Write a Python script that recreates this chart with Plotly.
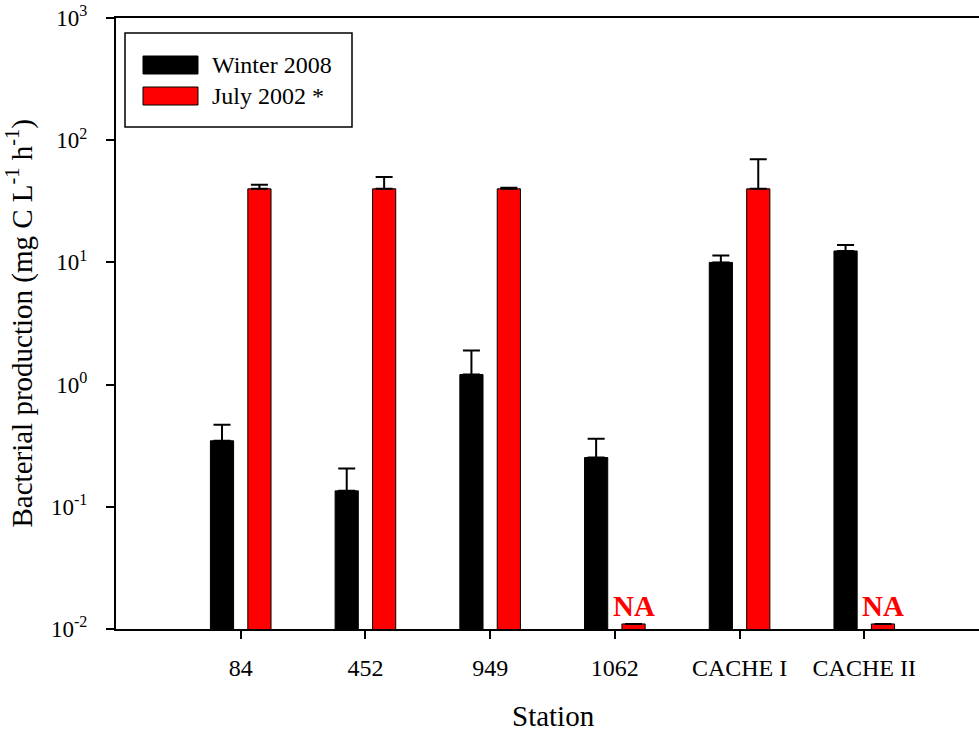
import math
import plotly.graph_objects as go

# ---------------- data ----------------
stations = ["84", "452", "949", "1062", "CACHE I", "CACHE II"]
series_names = ["Winter 2008", "July 2002 *"]

winter_vals = [0.347, 0.135, 1.21, 0.253, 10.0, 12.4]
winter_err = [0.122, 0.071, 0.69, 0.107, 1.37, 1.5]

july_vals = [40.0, 40.0, 40.0, None, 40.0, None]     # None = not available
july_err = [3.1, 10.1, 0.9, None, 30.0, None]
na_stub = 0.011                                        # small stub drawn for NA bars
na_label = "NA"

y_tickvals = [0.01, 0.1, 1, 10, 100, 1000]
y_ticktext = ["10<sup>-2</sup>", "10<sup>-1</sup>", "10<sup>0</sup>",
              "10<sup>1</sup>", "10<sup>2</sup>", "10<sup>3</sup>"]

x_title = "Station"
y_title = "Bacterial production (mg C L<sup>-1</sup> h<sup>-1</sup>)"

# ---------------- styling ----------------
FONT = "Liberation Serif, Times New Roman, serif"
W, H = 979, 731
L, R, T, B = 116, 979, 18, 629   # plot area in pixels
colors = ["#000000", "#ff0000"]

xpos = list(range(len(stations)))
july_draw = [v if v is not None else na_stub for v in july_vals]

fig = go.Figure()
fig.add_trace(go.Bar(
    x=xpos, y=winter_vals, name=series_names[0],
    marker=dict(color=colors[0], line=dict(color="black", width=1)),
    error_y=dict(type="data", array=winter_err, symmetric=False,
                 arrayminus=[0] * len(winter_err),
                 color="black", thickness=2, width=8.5),
    showlegend=False,
))
fig.add_trace(go.Bar(
    x=xpos, y=july_draw, name=series_names[1],
    marker=dict(color=colors[1], line=dict(color="black", width=1)),
    error_y=dict(type="data", array=july_err, symmetric=False,
                 arrayminus=[0] * len(july_err),
                 color="black", thickness=2, width=8.5),
    showlegend=False,
))

# NA labels over the stub bars
for i, v in enumerate(july_vals):
    if v is None:
        fig.add_annotation(
            x=i + 0.15, y=math.log10(na_stub), xref="x", yref="y",
            text="<b>%s</b>" % na_label, showarrow=False,
            xanchor="center", yanchor="bottom", yshift=0,
            font=dict(family=FONT, size=29, color="#ff0000"),
        )

# ---------------- custom legend ----------------
def px_x(px):
    return (px - L) / (R - L)

def px_y(py):
    return (B - py) / (B - T)

shapes = [dict(type="rect", xref="paper", yref="paper",
               x0=px_x(125), x1=px_x(352), y0=px_y(127), y1=px_y(33),
               line=dict(color="black", width=1.5), fillcolor="white")]
sw_rows = [(56, 74), (87, 105)]
for (y0, y1), c, name in zip(sw_rows, colors, series_names):
    shapes.append(dict(type="rect", xref="paper", yref="paper",
                       x0=px_x(143), x1=px_x(198), y0=px_y(y1), y1=px_y(y0),
                       line=dict(color="black", width=1), fillcolor=c))
    fig.add_annotation(x=px_x(210), y=px_y((y0 + y1) / 2), xref="paper", yref="paper",
                       text=name, showarrow=False, xanchor="left", yanchor="middle",
                       font=dict(family=FONT, size=24, color="black"))

# axis titles
fig.add_annotation(x=px_x(20), y=0.5, xref="paper", yref="paper", text=y_title,
                   textangle=-90, showarrow=False, xanchor="center", yanchor="middle",
                   font=dict(family=FONT, size=29, color="black"))
fig.add_annotation(x=px_x(553), y=px_y(716), xref="paper", yref="paper", text=x_title,
                   showarrow=False, xanchor="center", yanchor="middle",
                   font=dict(family=FONT, size=29, color="black"))

fig.update_layout(
    width=W, height=H,
    margin=dict(l=L, r=W - R, t=T, b=H - B, pad=0),
    paper_bgcolor="white", plot_bgcolor="white",
    barmode="group", bargap=0.4, bargroupgap=0.38,
    shapes=shapes,
    font=dict(family=FONT, color="black"),
)
fig.update_xaxes(
    range=[-1, 5.92], tickvals=xpos, ticktext=stations,
    showline=True, linecolor="black", linewidth=2, mirror=True,
    ticks="outside", ticklen=8, tickwidth=2, tickcolor="black",
    showgrid=False, zeroline=False, automargin=False,
    tickfont=dict(family=FONT, size=24, color="black"),
    ticklabelstandoff=8,
)
fig.update_yaxes(
    type="log", range=[-2, 3], tickvals=y_tickvals, ticktext=y_ticktext,
    showline=True, linecolor="black", linewidth=2,
    ticks="outside", ticklen=8, tickwidth=2, tickcolor="black",
    showgrid=False, zeroline=False, automargin=False,
    tickfont=dict(family=FONT, size=23, color="black"),
    ticklabelstandoff=14,
)

fig.write_html("out.html")
